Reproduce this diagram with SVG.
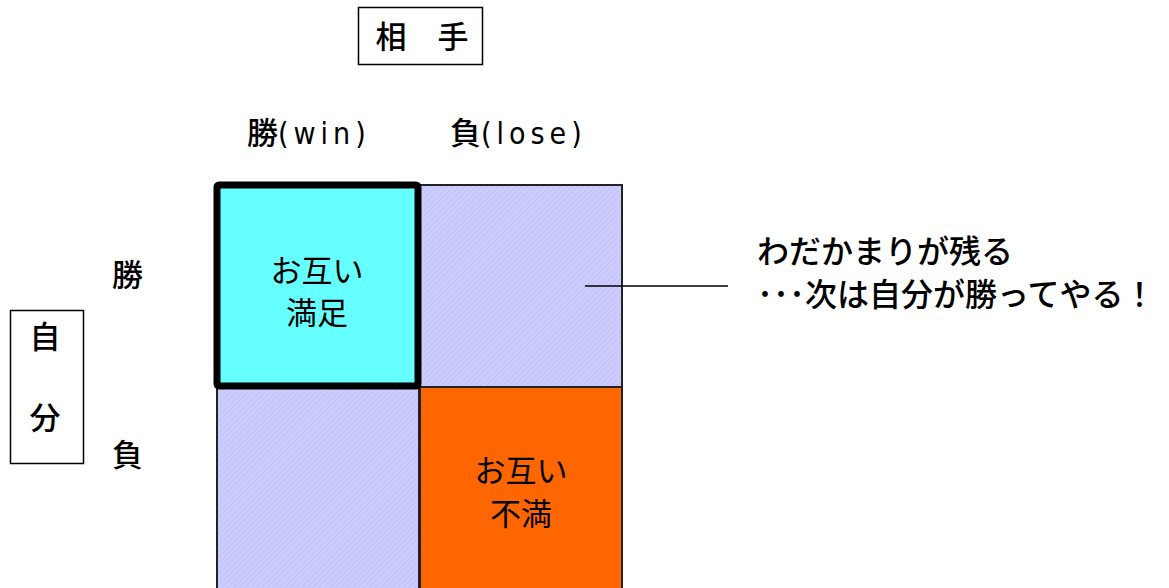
<svg xmlns="http://www.w3.org/2000/svg" width="1169" height="588" viewBox="0 0 1169 588">
<style>
text{font-family:"Noto Sans CJK JP","Noto Sans",sans-serif;fill:#000;font-weight:500}
.t{font-size:31px}
.n{font-size:32px}
.c{font-size:31px;font-weight:400}
.lbl{fill:none;stroke:#000;stroke-width:1.5}
.cell{stroke:#222;stroke-width:2}
.narrow{font-family:"Liberation Sans Narrow","DejaVu Sans Condensed","Liberation Sans",sans-serif;font-size:30px;font-weight:400;letter-spacing:5px}
</style>
<defs>
<pattern id="hatch" width="4" height="4" patternUnits="userSpaceOnUse" patternTransform="rotate(45)">
<rect width="4" height="4" fill="#CCCCFF"/>
<line x1="0" y1="0" x2="0" y2="4" stroke="#B8B8F0" stroke-width="1"/>
</pattern>
</defs>
<g id="aite">
<rect class="lbl" x="358.5" y="7.5" width="124" height="57"/>
<text class="t" x="422" y="48" text-anchor="middle">相　手</text>
</g>
<g id="col-win"><text class="t" x="247" y="144">勝<tspan class="narrow">(win)</tspan></text></g>
<g id="col-lose"><text class="t" x="450" y="144">負<tspan class="narrow">(lose)</tspan></text></g>
<g id="jibun">
<rect class="lbl" x="10.5" y="310.5" width="73" height="153"/>
<text class="t" x="45" y="348" text-anchor="middle">自</text>
<text class="t" x="45" y="429" text-anchor="middle">分</text>
</g>
<g id="row-win"><text class="t" x="112" y="286">勝</text></g>
<g id="row-lose"><text class="t" x="112" y="466">負</text></g>
<g id="cell-wl"><rect class="cell" x="420" y="185" width="202" height="202" fill="url(#hatch)"/></g>
<g id="cell-lw"><rect class="cell" x="217" y="388" width="202" height="202" fill="url(#hatch)"/></g>
<g id="cell-ll">
<rect class="cell" x="420" y="387" width="202" height="203" fill="#FF6600"/>
<text class="c" x="521" y="482" text-anchor="middle">お互い</text>
<text class="c" x="521" y="525" text-anchor="middle">不満</text>
</g>
<g id="cell-ww">
<rect x="217" y="185" width="201" height="201" fill="#66FFFF" stroke="#000" stroke-width="7" rx="2"/>
<text class="c" x="317" y="282" text-anchor="middle">お互い</text>
<text class="c" x="317" y="324" text-anchor="middle">満足</text>
</g>
<g id="connectors">
<line x1="585" y1="286" x2="728" y2="286" stroke="#000" stroke-width="1.5"/>
</g>
<g id="note">
<text class="n" x="757" y="263">わだかまりが残る</text>
<text class="n" x="757" y="306">･･･次は自分が勝ってやる！</text>
</g>
</svg>
